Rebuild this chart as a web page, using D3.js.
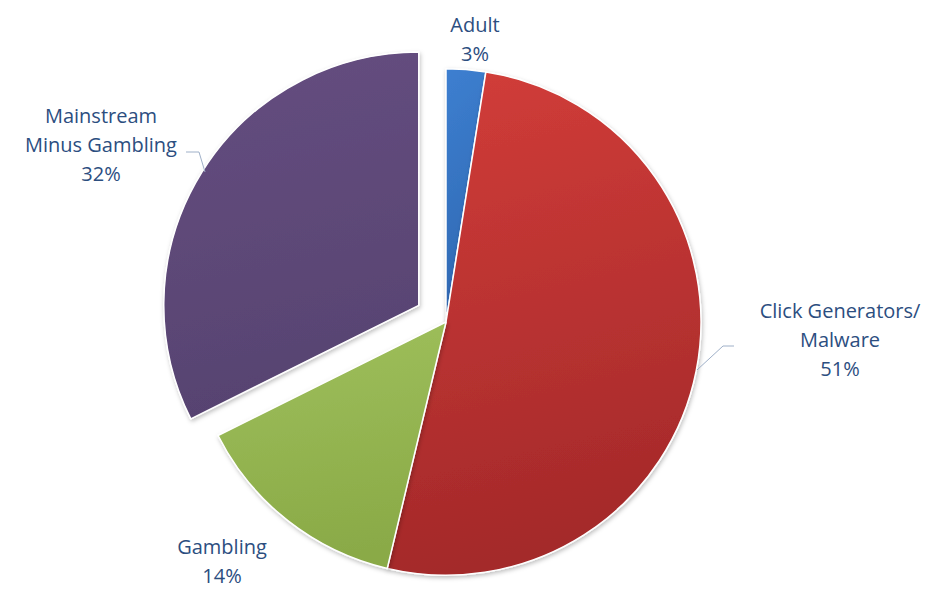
<!DOCTYPE html>
<html><head><meta charset="utf-8">
<script src="https://cdn.jsdelivr.net/npm/d3@7"></script>
<style>html,body{margin:0;padding:0;background:#fff;}svg{display:block;}</style>
</head><body>
<svg id="chart" width="929" height="590"></svg>
<script>
const categories = ["Adult", "Click Generators/Malware", "Gambling", "Mainstream Minus Gambling"];
const values = [2.5, 51.2, 13.9, 32.4];
const labelLines = [["Adult"], ["Click Generators/", "Malware"], ["Gambling"], ["Mainstream", "Minus Gambling"]];
const colorsTop = ["#3d7fd0", "#d23d39", "#9fc05c", "#654e80"];
const colorsBottom = ["#2f68b2", "#a4292a", "#8aaa47", "#574371"];

const W = 929, H = 590;
const cx = 446, cy = 322, R = 255, sy = 0.993;
const explode = [0, 0, 0, 32];
const svg = d3.select("#chart");
const defs = svg.append("defs");
colorsTop.forEach((c, i) => {
  const g = defs.append("linearGradient").attr("id", "g" + i)
    .attr("x1", 0).attr("y1", 0).attr("x2", 0.15).attr("y2", 1);
  g.append("stop").attr("offset", "0%").attr("stop-color", c);
  g.append("stop").attr("offset", "100%").attr("stop-color", colorsBottom[i]);
});
const f = defs.append("filter").attr("id", "shadow").attr("x", "-10%").attr("y", "-10%").attr("width", "120%").attr("height", "120%");
f.append("feDropShadow").attr("dx", 1).attr("dy", 2).attr("stdDeviation", 2)
  .attr("flood-color", "#000").attr("flood-opacity", 0.25);

const pie = d3.pie().sort(null).value(d => d)(values);
const arc = d3.arc().innerRadius(0).outerRadius(R);
const root = svg.append("g").attr("transform", `translate(${cx},${cy}) scale(1,${sy})`);
root.selectAll("path").data(pie).join("path")
  .attr("d", arc)
  .attr("transform", (d, i) => {
    const a = (d.startAngle + d.endAngle) / 2;
    return `translate(${Math.sin(a) * explode[i]},${-Math.cos(a) * explode[i]})`;
  })
  .attr("fill", (d, i) => `url(#g${i})`)
  .attr("filter", "url(#shadow)")
  .attr("stroke", "#ffffff").attr("stroke-width", 1.5).attr("stroke-linejoin", "round");

const textColor = "#2c4e7f";
const labelPos = [
  {x: 475, y: 32},
  {x: 840, y: 318},
  {x: 222, y: 554},
  {x: 101, y: 123}
];
const lh = 29;
labelLines.forEach((lines, i) => {
  const t = svg.append("text").attr("text-anchor", "middle")
    .attr("font-family", "'Open Sans', sans-serif").attr("font-size", 20)
    .attr("fill", textColor);
  const all = lines.concat([Math.round(values[i]) + "%"]);
  all.forEach((s, k) => {
    t.append("tspan").attr("x", labelPos[i].x).attr("y", labelPos[i].y + k * lh).text(s);
  });
});

// leader lines
const leaders = [
  [[186, 152], [199, 152], [205, 172]],
  [[734, 346], [723, 346], [697, 370]]
];
leaders.forEach(pts => {
  svg.append("path").attr("d", d3.line()(pts)).attr("fill", "none")
    .attr("stroke", "#9fb0c8").attr("stroke-width", 1);
});
</script>
</body></html>
